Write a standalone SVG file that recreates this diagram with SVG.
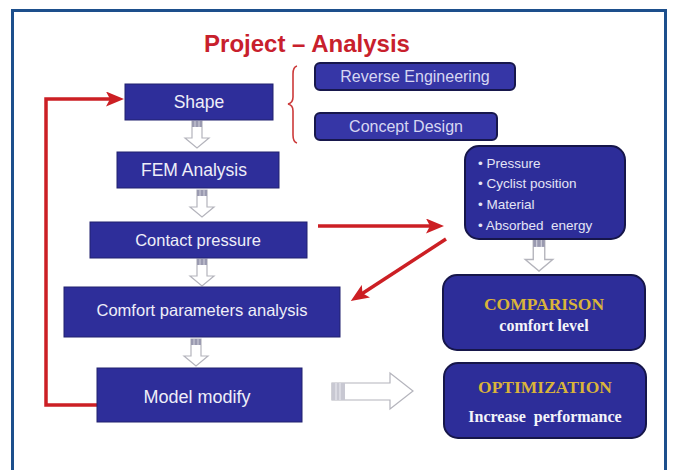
<svg xmlns="http://www.w3.org/2000/svg" width="674" height="470" viewBox="0 0 674 470">
<style>
.box{fill:#2e2e9a;stroke:#20206e;stroke-width:1}
.rbox{fill:#2d2d99;stroke:#16164a;stroke-width:2}
.sbox{fill:#3636a6;stroke:#17174c;stroke-width:2}
.lt{font-family:"Liberation Sans",Arial,sans-serif;fill:#eeeef8;text-anchor:middle}
.st{font-family:"Liberation Sans",Arial,sans-serif;fill:#d6d6f2;text-anchor:middle;font-size:16px}
.bt{font-family:"Liberation Sans",Arial,sans-serif;fill:#e4e4f6;font-size:13.5px}
.gold{font-family:"Liberation Serif","Times New Roman",serif;font-weight:bold;fill:#d9b43a;text-anchor:middle;font-size:17.5px}
.wt{font-family:"Liberation Serif","Times New Roman",serif;font-weight:bold;fill:#f4f4fa;text-anchor:middle;font-size:16px}
.red{fill:none;stroke:#cc1f24;stroke-width:3.5}
.hollow{fill:#ffffff;stroke:#b4b4bc;stroke-width:1.2}
</style>
<defs>
<marker id="ah" markerUnits="userSpaceOnUse" markerWidth="18" markerHeight="15" viewBox="0 0 18 15" refX="7" refY="7.5" orient="auto">
<path d="M0,0 L18,7.5 L0,15 L4,7.5 Z" fill="#cc1f24"/>
</marker>
<g id="darr">
<path d="M-5,0 H5 V17 H12 L0,27 L-12,17 H-5 Z" class="hollow"/>
<rect x="-5" y="0" width="10" height="6" fill="#9a9ab0"/>
<line x1="-2" y1="0" x2="-2" y2="6" stroke="#d0d0dc" stroke-width="1"/>
<line x1="2" y1="0" x2="2" y2="6" stroke="#d0d0dc" stroke-width="1"/>
</g>
</defs>
<rect x="0" y="0" width="674" height="470" fill="#ffffff"/>
<rect x="12.5" y="10.5" width="653" height="470" fill="none" stroke="#1d4f8c" stroke-width="3"/>
<text x="307" y="52" font-family="'Liberation Sans',Arial,sans-serif" font-weight="bold" font-size="24" fill="#c8202c" text-anchor="middle">Project – Analysis</text>

<g id="connectors">
<path class="red" d="M98,405 H46 V99 H113" marker-end="url(#ah)"/>
<path class="red" d="M318,226 H433" marker-end="url(#ah)"/>
<path class="red" d="M446,239 L360,295" marker-end="url(#ah)"/>
<path d="M297,66 Q293,67 293,74 V97 Q293,103 288,104 Q293,105 293,111 V135 Q293,142 297,143" fill="none" stroke="#cc3a3a" stroke-width="1.6"/>
<use href="#darr" x="197" y="121"/>
<use href="#darr" x="202" y="190"/>
<use href="#darr" x="202" y="259"/>
<use href="#darr" x="196" y="339"/>
<g transform="translate(539,240) scale(1.15,1.15)"><use href="#darr"/></g>
<path d="M332,383 H390 V373 L413,391 L390,409 V400 H332 Z" class="hollow"/>
<rect x="332" y="383" width="13" height="17" fill="#c8c8d2"/>
<line x1="336" y1="383" x2="336" y2="400" stroke="#ececf2" stroke-width="1"/>
<line x1="340" y1="383" x2="340" y2="400" stroke="#ececf2" stroke-width="1"/>
</g>

<g id="shape"><rect class="box" x="125" y="84" width="148" height="36"/><text class="lt" x="199" y="108" font-size="17.5">Shape</text></g>
<g id="fem"><rect class="box" x="117" y="152" width="162" height="36"/><text class="lt" x="194" y="176" font-size="17.5">FEM Analysis</text></g>
<g id="contact"><rect class="box" x="90" y="222" width="217" height="36"/><text class="lt" x="198" y="246" font-size="16.5">Contact pressure</text></g>
<g id="comfort"><rect class="box" x="64" y="287" width="276" height="50"/><text class="lt" x="202" y="316" font-size="16.5">Comfort parameters analysis</text></g>
<g id="model"><rect class="box" x="97" y="368" width="205" height="54"/><text class="lt" x="197" y="403" font-size="18">Model modify</text></g>

<g id="reverse"><rect class="sbox" x="315" y="63" width="200" height="27" rx="5"/><text class="st" x="415" y="82">Reverse Engineering</text></g>
<g id="concept"><rect class="sbox" x="315" y="113" width="182" height="27" rx="5"/><text class="st" x="406" y="132">Concept Design</text></g>

<g id="params"><rect class="rbox" x="465" y="146" width="160" height="93" rx="14"/>
<text class="bt" x="478" y="168">• Pressure</text>
<text class="bt" x="478" y="188">• Cyclist position</text>
<text class="bt" x="478" y="209">• Material</text>
<text class="bt" x="478" y="230" xml:space="preserve">• Absorbed  energy</text>
</g>
<g id="comparison"><rect class="rbox" x="443" y="275" width="202" height="75" rx="14"/>
<text class="gold" x="544" y="310">COMPARISON</text>
<text class="wt" x="544" y="331">comfort level</text>
</g>
<g id="optimization"><rect class="rbox" x="444" y="363" width="202" height="75" rx="14"/>
<text class="gold" x="545" y="393">OPTIMIZATION</text>
<text class="wt" x="545" y="422" xml:space="preserve">Increase  performance</text>
</g>
</svg>
